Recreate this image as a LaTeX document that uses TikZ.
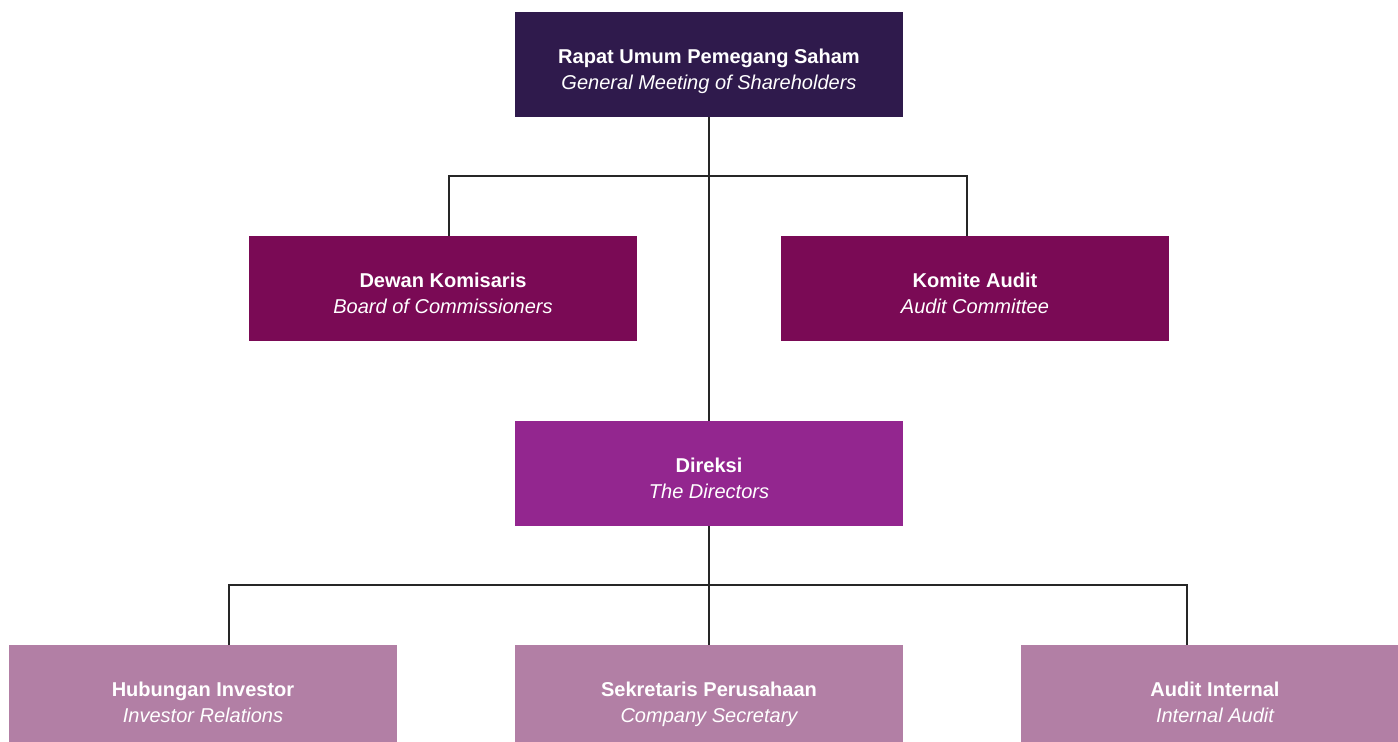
\documentclass[tikz,border=0pt]{standalone}
\usepackage{fontspec}
\setmainfont{Liberation Sans}
\usepackage{tikz}
\usetikzlibrary{calc}
\definecolor{rupsc}{HTML}{2F1A4C}
\definecolor{boardc}{HTML}{7A0A55}
\definecolor{dirc}{HTML}{93268F}
\definecolor{unitc}{HTML}{B27FA5}
\tikzset{
	orgbox/.style={minimum width=7.76cm, minimum height=2.1cm, inner sep=0pt,
		text=white, align=center, font=\fontsize{11.4}{14.8}\selectfont},
	link/.style={line width=0.6pt, color=black!85}
}
\newcommand{\unit}[2]{\textbf{\rule{0pt}{0.625cm}#1}\\\textit{#2\strut}}

\begin{document}
\begin{tikzpicture}[x=0.02cm, y=-0.02cm]
			%%%%% START %%%%%
			\useasboundingbox (0, 0) rectangle (1398, 742);
			
			\node[orgbox, fill=rupsc] (rups) at (709, 64.5) {\unit{Rapat Umum Pemegang Saham}{General Meeting of Shareholders}};
			
			\node[orgbox, fill=boardc] (dewan) at (443, 288.5) {\unit{Dewan Komisaris}{Board of Commissioners}};
			\node[orgbox, fill=boardc] (komite) at (975, 288.5) {\unit{Komite Audit}{Audit Committee}};
			
			\node[orgbox, fill=dirc] (direksi) at (709, 473.5) {\unit{Direksi}{The Directors}};
			
			\node[orgbox, fill=unitc] (hubungan) at (203, 697.5) {\unit{Hubungan Investor}{Investor Relations}};
			\node[orgbox, fill=unitc] (sekretaris) at (709, 697.5) {\unit{Sekretaris Perusahaan}{Company Secretary}};
			\node[orgbox, fill=unitc] (internal) at (1215, 697.5) {\unit{Audit Internal}{Internal Audit}};
			
			\coordinate (split1) at (709, 176);
			\coordinate (dewanTop) at (449, 236);
			\coordinate (komiteTop) at (967, 236);
			\coordinate (split2) at (709, 585);
			\coordinate (hubTop) at (229, 645);
			\coordinate (intTop) at (1187, 645);
			
			\draw[link] (rups.south) -- (direksi.north);
			\draw[link] (dewanTop) |- (split1) -| (komiteTop);
			
			\draw[link] (direksi.south) -- (sekretaris.north);
			\draw[link] (hubTop) |- (split2) -| (intTop);
			%%%%% END %%%%%
		\end{tikzpicture}
\end{document}
